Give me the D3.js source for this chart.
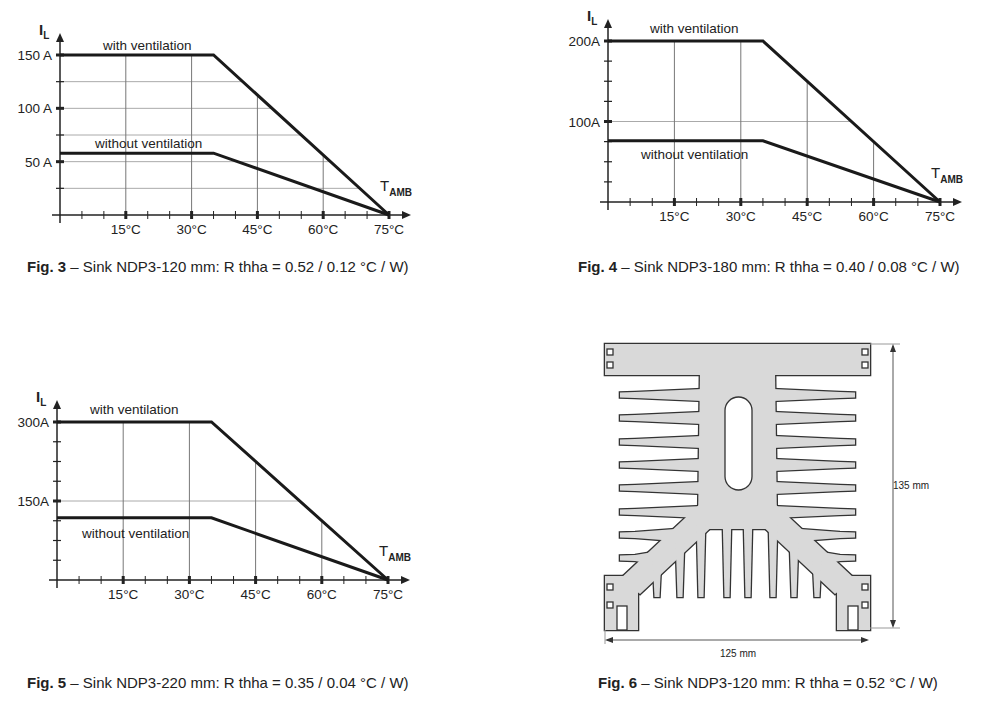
<!DOCTYPE html>
<html><head><meta charset="utf-8">
<script src="https://cdn.jsdelivr.net/npm/d3@7"></script>
<style>body{margin:0;background:#fff}text{font-family:"Liberation Sans",Arial,sans-serif;fill:#222}</style>
</head><body><svg></svg>
<script>
const width = 990, height = 714;
let svg = d3.select("svg").attr("width", width).attr("height", height);

// данные
const tempTicks = [15, 30, 45, 60, 75];
const fig3With = [[0, 150], [35, 150], [75, 0]];
const fig3Without = [[0, 58], [35, 58], [75, 0]];
const fig4With = [[0, 200], [35, 200], [75, 0]];
const fig4Without = [[0, 76], [35, 76], [75, 0]];
const fig5With = [[0, 300], [35, 300], [75, 0]];
const fig5Without = [[0, 118], [35, 118], [75, 0]];
const fig3YLabels = [[50, "50 A"], [100, "100 A"], [150, "150 A"]];
const fig4YLabels = [[100, "100A"], [200, "200A"]];
const fig5YLabels = [[150, "150A"], [300, "300A"]];

function interp(data, t) {
    for (let i = 1; i < data.length; i++) {
        if (t <= data[i][0]) {
            let [t0, v0] = data[i - 1], [t1, v1] = data[i];
            return v0 + (v1 - v0) * (t - t0) / (t1 - t0);
        }
    }
    return 0;
}

function drawChart(c) {
    let g = svg.append("g");
    let x = d3.scaleLinear().domain([0, 75]).range([c.x0, c.x75]);
    let y = d3.scaleLinear().domain([0, c.ymax]).range([c.y0, c.yTop]);
    // сетка
    c.hGrid.forEach(v => {
        let t = 35 + (75 - 35) * (1 - v / c.ymax);
        g.append("line").attr("x1", x(0)).attr("x2", x(t)).attr("y1", y(v)).attr("y2", y(v))
            .attr("stroke", "#aaa").attr("stroke-width", 1);
    });
    [15, 30, 45, 60].forEach(t => {
        g.append("line").attr("x1", x(t)).attr("x2", x(t)).attr("y1", y(0)).attr("y2", y(interp(c.withV, t)))
            .attr("stroke", "#777").attr("stroke-width", 1);
    });
    // оси
    g.append("line").attr("x1", x(0) - 8).attr("x2", x(75) + 16).attr("y1", y(0)).attr("y2", y(0))
        .attr("stroke", "#222").attr("stroke-width", 1.5);
    g.append("path").attr("d", `M${x(75) + 22},${y(0)} l-9,-4 l0,8 z`).attr("fill", "#222");
    g.append("line").attr("x1", x(0)).attr("x2", x(0)).attr("y1", y(0) + 8).attr("y2", y(c.ymax) - 16)
        .attr("stroke", "#222").attr("stroke-width", 1.5);
    g.append("path").attr("d", `M${x(0)},${y(c.ymax) - 22} l-4,9 l8,0 z`).attr("fill", "#222");
    // деления
    for (let t = 5; t <= 75; t += 5) {
        let major = t % 15 === 0;
        g.append("line").attr("x1", x(t)).attr("x2", x(t)).attr("y1", y(0) - 4).attr("y2", y(0) + 4)
            .attr("stroke", "#222").attr("stroke-width", major ? 3 : 1);
    }
    for (let v = c.minor; v <= c.ymax + 0.01; v += c.minor) {
        let major = c.yLabels.some(d => Math.abs(d[0] - v) < 0.01);
        g.append("line").attr("x1", x(0) - 4).attr("x2", x(0) + 4).attr("y1", y(v)).attr("y2", y(v))
            .attr("stroke", "#222").attr("stroke-width", major ? 3 : 1.2);
    }
    tempTicks.forEach(t => g.append("text").attr("x", x(t)).attr("y", y(0) + 19)
        .attr("text-anchor", "middle").attr("font-size", 13.5).text(t + "°C"));
    c.yLabels.forEach(d => g.append("text").attr("x", x(0) - 8).attr("y", y(d[0]) + 5)
        .attr("text-anchor", "end").attr("font-size", 13.5).text(d[1]));
    // кривые
    let line = d3.line().x(d => x(d[0])).y(d => y(d[1]));
    [c.withV, c.withoutV].forEach(d => g.append("path").attr("d", line(d))
        .attr("fill", "none").attr("stroke", "#1a1a1a").attr("stroke-width", 3));
    g.append("text").attr("x", c.withLbl[0]).attr("y", c.withLbl[1]).attr("font-size", 13.5).text("with ventilation");
    g.append("text").attr("x", c.withoutLbl[0]).attr("y", c.withoutLbl[1]).attr("font-size", 13.5).text("without ventilation");
    // подписи осей
    let il = g.append("text").attr("x", x(0) - 21).attr("y", y(c.ymax) - 20).attr("font-size", 15).attr("font-weight", "bold");
    il.append("tspan").text("I");
    il.append("tspan").attr("dy", 4).attr("font-size", 10).text("L");
    let ta = g.append("text").attr("x", x(75) - 9).attr("y", y(0) - 24).attr("font-size", 15);
    ta.append("tspan").text("T");
    ta.append("tspan").attr("dy", 5).attr("font-size", 10).attr("font-weight", "bold").text("AMB");
    // подпись рисунка
    let cap = g.append("text").attr("x", c.cap[0]).attr("y", c.cap[1]).attr("font-size", 15);
    cap.append("tspan").attr("font-weight", "bold").text(c.fig);
    cap.append("tspan").text(c.capText);
}

drawChart({x0: 60, x75: 389, y0: 215, yTop: 55, ymax: 150, minor: 25, hGrid: [25, 50, 75, 100, 125],
    yLabels: fig3YLabels, withV: fig3With, withoutV: fig3Without, withLbl: [103, 50], withoutLbl: [95, 148],
    fig: "Fig. 3", capText: " – Sink NDP3-120 mm: R thha = 0.52 / 0.12 °C / W)", cap: [27, 272]});
drawChart({x0: 608, x75: 940, y0: 202, yTop: 41, ymax: 200, minor: 25, hGrid: [100],
    yLabels: fig4YLabels, withV: fig4With, withoutV: fig4Without, withLbl: [650, 33], withoutLbl: [641, 159],
    fig: "Fig. 4", capText: " – Sink NDP3-180 mm: R thha = 0.40 / 0.08 °C / W)", cap: [578, 272]});
drawChart({x0: 57, x75: 388, y0: 580, yTop: 422, ymax: 300, minor: 37.5, hGrid: [150],
    yLabels: fig5YLabels, withV: fig5With, withoutV: fig5Without, withLbl: [90, 414], withoutLbl: [82, 538],
    fig: "Fig. 5", capText: " – Sink NDP3-220 mm: R thha = 0.35 / 0.04 °C / W)", cap: [27, 688]});

// радиатор (рис. 6)
const sideFinY = [51, 74, 98, 121, 144, 168, 191, 214];
const bottomFinX = [52, 75, 96, 122, 143, 168, 189, 212];
const bottomFinTop = [213, 193, 173, 168, 168, 173, 193, 213];
const W = 265;
let hs = svg.append("g").attr("transform", "translate(605,344)");
let shapes = [];
shapes.push([[0, 0], [W, 0], [W, 31], [0, 31]]);
shapes.push([[95, 25], [170, 25], [172, 180], [93, 180]]);
sideFinY.forEach((fy, i) => {
    let root = i < 6 ? 97 : (i === 6 ? 70 : 48);
    shapes.push([[root, fy - 6], [30, fy - 3], [15, fy - 2.5], [15, fy + 2.5], [30, fy + 3], [root, fy + 6]]);
    shapes.push([[W - root, fy - 6], [W - 30, fy - 3], [W - 15, fy - 2.5], [W - 15, fy + 2.5], [W - 30, fy + 3], [W - root, fy + 6]]);
});
shapes.push([[95, 160], [112, 178], [35, 250], [15, 235]]);
shapes.push([[W - 95, 160], [W - 112, 178], [W - 35, 250], [W - 15, 235]]);
shapes.push([[100, 165], [165, 165], [175, 185], [90, 185]]);
bottomFinX.forEach((fx, i) => shapes.push([[fx - 4.5, bottomFinTop[i]], [fx + 4.5, bottomFinTop[i]],
    [fx + 2.5, 253], [fx - 2.5, 253]]));
shapes.push([[0, 232], [33, 232], [33, 286], [0, 286]]);
shapes.push([[W - 33, 232], [W, 232], [W, 286], [W - 33, 286]]);
let poly = d3.line().curve(d3.curveLinearClosed);
shapes.forEach(s => hs.append("path").attr("d", poly(s)).attr("fill", "#333").attr("stroke", "#333").attr("stroke-width", 2.6));
shapes.forEach(s => hs.append("path").attr("d", poly(s)).attr("fill", "#d9d9d9"));
// вырезы
const notches = [[2, 5, 6, 6], [2, 18, 6, 6], [W - 8, 5, 6, 6], [W - 8, 18, 6, 6],
    [2, 240, 6, 6], [2, 258, 6, 6], [12, 262, 10, 24], [W - 8, 240, 6, 6], [W - 8, 258, 6, 6], [W - 22, 262, 10, 24]];
notches.forEach(n => hs.append("rect").attr("x", n[0]).attr("y", n[1]).attr("width", n[2]).attr("height", n[3])
    .attr("fill", "#fff").attr("stroke", "#333").attr("stroke-width", 1.3));
hs.append("rect").attr("x", 120).attr("y", 53).attr("width", 27).attr("height", 93).attr("rx", 13.5)
    .attr("fill", "#fff").attr("stroke", "#333").attr("stroke-width", 1.3);
// размеры
hs.append("line").attr("x1", W).attr("x2", 295).attr("y1", 0).attr("y2", 0).attr("stroke", "#999");
hs.append("line").attr("x1", W).attr("x2", 295).attr("y1", 284).attr("y2", 284).attr("stroke", "#999");
hs.append("line").attr("x1", 288).attr("x2", 288).attr("y1", 2).attr("y2", 282).attr("stroke", "#555");
hs.append("path").attr("d", "M288,0 l-3,8 l6,0 z M288,284 l-3,-8 l6,0 z").attr("fill", "#333");
hs.append("text").attr("x", 288).attr("y", 145).attr("font-size", 10).text("135 mm");
hs.append("line").attr("x1", 0).attr("x2", 0).attr("y1", 286).attr("y2", 300).attr("stroke", "#999");
hs.append("line").attr("x1", 2).attr("x2", 262).attr("y1", 296).attr("y2", 296).attr("stroke", "#555");
hs.append("path").attr("d", "M0,296 l8,-3 l0,6 z M264,296 l-8,-3 l0,6 z").attr("fill", "#333");
hs.append("text").attr("x", 133).attr("y", 313).attr("text-anchor", "middle").attr("font-size", 10).text("125 mm");
let cap6 = svg.append("text").attr("x", 598).attr("y", 688).attr("font-size", 15);
cap6.append("tspan").attr("font-weight", "bold").text("Fig. 6");
cap6.append("tspan").text(" – Sink NDP3-120 mm: R thha = 0.52 °C / W)");
</script></body></html>
